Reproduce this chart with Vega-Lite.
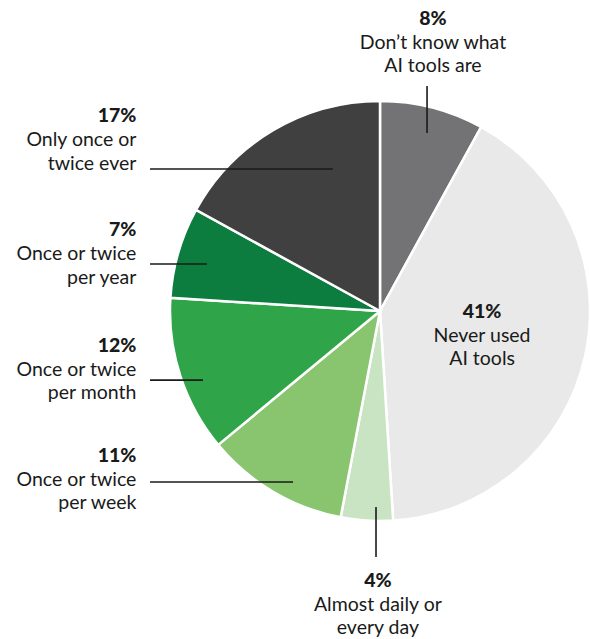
{
  "$schema": "https://vega.github.io/schema/vega-lite/v6.json",
  "autosize": {"type": "none"},
  "width": 590,
  "height": 639,
  "padding": 0,
  "background": "white",
  "config": {"view": {"stroke": null}, "axis": {"disable": true}},
  "data": {
    "values": [
      {"cat": "Don’t know what AI tools are", "order": 1, "pct": 0.08, "label": "Don’t know what\nAI tools are", "side": "center", "tx": 25.2, "ty": 136.2, "lx": 22.4, "ly": 107.1, "lx2": 22.4, "ly2": 84.8},
      {"cat": "Never used AI tools", "order": 2, "pct": 0.41, "label": "Never used\nAI tools", "side": "center", "tx": 48.6, "ty": -3.3},
      {"cat": "Almost daily or every day", "order": 3, "pct": 0.04, "label": "Almost daily or\nevery day", "side": "center", "tx": -1.0, "ty": -131.4, "lx": -1.9, "ly": -93.3, "lx2": -1.9, "ly2": -117.1},
      {"cat": "Once or twice per week", "order": 4, "pct": 0.11, "label": "Once or twice\nper week", "side": "left", "tx": -116, "ty": -71.9, "lx": -109.5, "ly": -81.4, "lx2": -41.4, "ly2": -81.4},
      {"cat": "Once or twice per month", "order": 5, "pct": 0.12, "label": "Once or twice\nper month", "side": "left", "tx": -116, "ty": -19.5, "lx": -109.5, "ly": -32.9, "lx2": -84.3, "ly2": -32.9},
      {"cat": "Once or twice per year", "order": 6, "pct": 0.07, "label": "Once or twice\nper year", "side": "left", "tx": -116, "ty": 35.7, "lx": -109.5, "ly": 22.4, "lx2": -82.4, "ly2": 22.4},
      {"cat": "Only once or twice ever", "order": 7, "pct": 0.17, "label": "Only once or\ntwice ever", "side": "left", "tx": -116, "ty": 90.0, "lx": -109.5, "ly": 67.6, "lx2": -22.4, "ly2": 67.6}
    ]
  },
  "layer": [
    {
      "mark": {"type": "arc", "outerRadius": 210, "stroke": "white", "strokeWidth": 2.5},
      "encoding": {
        "theta": {"field": "pct", "type": "quantitative", "stack": true},
        "order": {"field": "order", "type": "quantitative"},
        "x": {"datum": 0, "type": "quantitative", "scale": {"domain": [-180.95, 100], "zero": false, "nice": false}},
        "y": {"datum": 0, "type": "quantitative", "scale": {"domain": [-156.19, 148.1], "zero": false, "nice": false}},
        "color": {
          "field": "cat", "type": "nominal", "legend": null,
          "scale": {
            "domain": ["Don’t know what AI tools are", "Never used AI tools", "Almost daily or every day", "Once or twice per week", "Once or twice per month", "Once or twice per year", "Only once or twice ever"],
            "range": ["#737375", "#e9e9e9", "#c8e4c3", "#88c56e", "#30a448", "#0c7d3f", "#404040"]
          }
        }
      }
    },
    {
      "transform": [{"filter": "isValid(datum.lx)"}],
      "mark": {"type": "rule", "stroke": "#1a1a1a", "strokeWidth": 1.6},
      "encoding": {
        "x": {"field": "lx", "type": "quantitative"},
        "y": {"field": "ly", "type": "quantitative"},
        "x2": {"field": "lx2"},
        "y2": {"field": "ly2"}
      }
    },
    {
      "transform": [{"filter": "datum.side == 'left'"}],
      "mark": {"type": "text", "font": "Lato", "fontSize": 19.5, "fontWeight": 900, "align": "right", "baseline": "alphabetic", "fill": "#1a1a1a"},
      "encoding": {
        "x": {"field": "tx", "type": "quantitative"},
        "y": {"field": "ty", "type": "quantitative"},
        "text": {"field": "pct", "type": "quantitative", "format": ".0%"}
      }
    },
    {
      "transform": [{"filter": "datum.side == 'center'"}],
      "mark": {"type": "text", "font": "Lato", "fontSize": 19.5, "fontWeight": 900, "align": "center", "baseline": "alphabetic", "fill": "#1a1a1a"},
      "encoding": {
        "x": {"field": "tx", "type": "quantitative"},
        "y": {"field": "ty", "type": "quantitative"},
        "text": {"field": "pct", "type": "quantitative", "format": ".0%"}
      }
    },
    {
      "transform": [{"filter": "datum.side == 'left'"}],
      "mark": {"type": "text", "font": "Lato", "fontSize": 19.5, "align": "right", "baseline": "alphabetic", "dy": 24, "lineBreak": "\n", "lineHeight": 23.5, "fill": "#1a1a1a"},
      "encoding": {
        "x": {"field": "tx", "type": "quantitative"},
        "y": {"field": "ty", "type": "quantitative"},
        "text": {"field": "label", "type": "nominal"}
      }
    },
    {
      "transform": [{"filter": "datum.side == 'center'"}],
      "mark": {"type": "text", "font": "Lato", "fontSize": 19.5, "align": "center", "baseline": "alphabetic", "dy": 24, "lineBreak": "\n", "lineHeight": 23.5, "fill": "#1a1a1a"},
      "encoding": {
        "x": {"field": "tx", "type": "quantitative"},
        "y": {"field": "ty", "type": "quantitative"},
        "text": {"field": "label", "type": "nominal"}
      }
    }
  ]
}
